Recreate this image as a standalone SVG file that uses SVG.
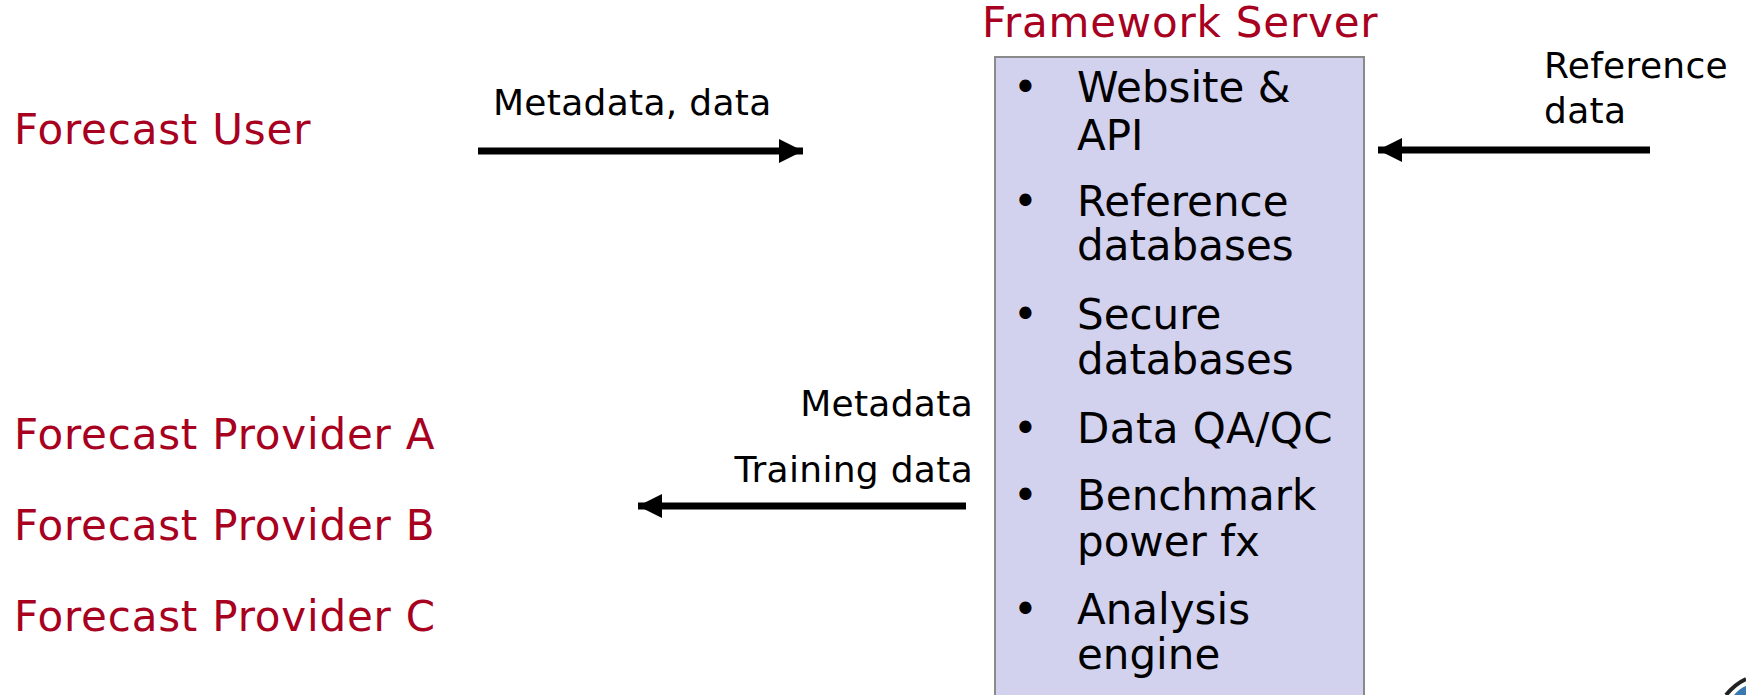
<svg xmlns="http://www.w3.org/2000/svg" width="1746" height="695" viewBox="0 0 1746 695">
<style>
text{font-family:"DejaVu Sans","Verdana",sans-serif}
.red{fill:#a8001f;font-size:42px;letter-spacing:0.8px}
.item{fill:#000;font-size:42px}
.lbl{fill:#000;font-size:36px;letter-spacing:0.3px}
.arrow{stroke:#000;stroke-width:7;fill:none}
</style>
<defs>
<marker id="ah" markerUnits="userSpaceOnUse" markerWidth="26" markerHeight="26" refX="24" refY="12" orient="auto">
<path d="M0,0 L24,12 L0,24 Z" fill="#000"/>
</marker>
</defs>
<rect width="1746" height="695" fill="#fff"/>
<g id="forecast-user"><text class="red" x="14" y="144">Forecast User</text></g>
<g id="provider-a"><text class="red" x="14" y="449">Forecast Provider A</text></g>
<g id="provider-b"><text class="red" x="14" y="540">Forecast Provider B</text></g>
<g id="provider-c"><text class="red" x="14" y="631">Forecast Provider C</text></g>
<g id="framework-server">
<text class="red" x="982" y="37">Framework Server</text>
<rect x="995" y="57" width="369" height="645" fill="#d2d2ef" stroke="#8a8a8a" stroke-width="2"/>
<g class="item">
<text x="1013" y="102">•</text><text x="1077" y="102">Website &amp;</text><text x="1077" y="150">API</text>
<text x="1013" y="216">•</text><text x="1077" y="216">Reference</text><text x="1077" y="260">databases</text>
<text x="1013" y="329">•</text><text x="1077" y="329">Secure</text><text x="1077" y="374">databases</text>
<text x="1013" y="443">•</text><text x="1077" y="443" letter-spacing="0.4">Data QA/QC</text>
<text x="1013" y="510">•</text><text x="1077" y="510">Benchmark</text><text x="1077" y="556">power fx</text>
<text x="1013" y="624">•</text><text x="1077" y="624">Analysis</text><text x="1077" y="669">engine</text>
</g>
</g>
<g id="connectors">
<line class="arrow" x1="478" y1="151" x2="803" y2="151" marker-end="url(#ah)"/>
<line class="arrow" x1="1650" y1="150" x2="1378" y2="150" marker-end="url(#ah)"/>
<line class="arrow" x1="966" y1="506" x2="638" y2="506" marker-end="url(#ah)"/>
<text class="lbl" x="493" y="115">Metadata, data</text>
<text class="lbl" x="1544" y="78">Reference</text>
<text class="lbl" x="1544" y="123">data</text>
<text class="lbl" x="973" y="416" text-anchor="end">Metadata</text>
<text class="lbl" x="973" y="482" text-anchor="end">Training data</text>
</g>
<g id="corner-logo">
<path d="M1726,695 Q1735,684 1746,679" stroke="#222" stroke-width="4" fill="none"/>
<path d="M1734,695 Q1740,688 1746,686 L1746,695 Z" fill="#3a78b0"/>
</g>
</svg>
